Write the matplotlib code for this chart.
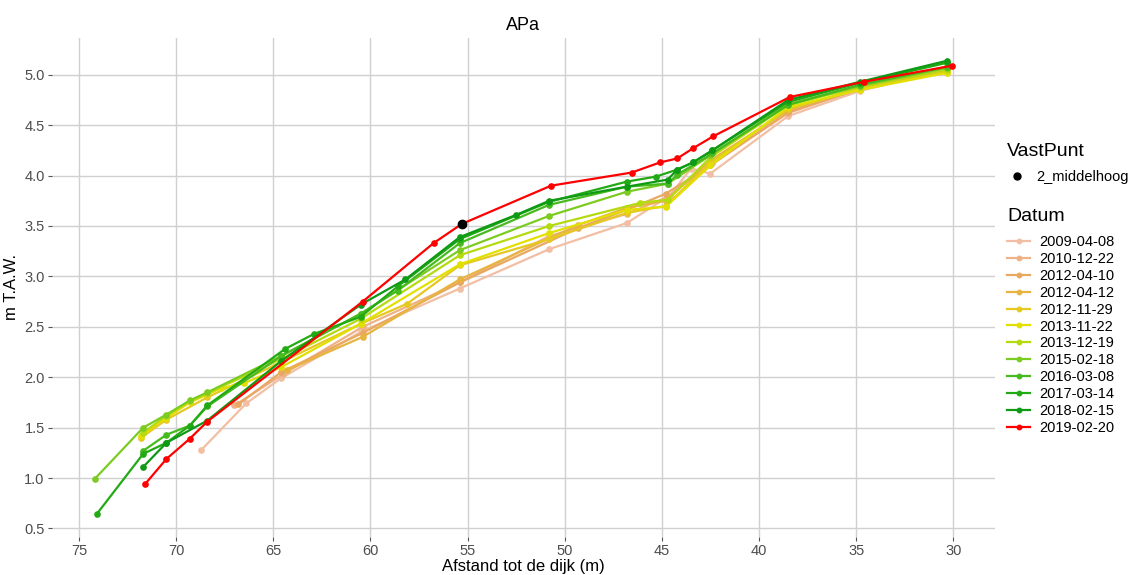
import matplotlib
matplotlib.use("Agg")
import matplotlib.pyplot as plt
from matplotlib.lines import Line2D

plt.rcParams['font.family'] = ['Liberation Sans', 'DejaVu Sans']

# metingen per datum: afstand tot de dijk (m) en hoogte (m T.A.W.)
datums = ["2009-04-08", "2010-12-22", "2012-04-10", "2012-04-12", "2012-11-29", "2013-11-22",
          "2013-12-19", "2015-02-18", "2016-03-08", "2017-03-14", "2018-02-15", "2019-02-20"]
kleuren = ["#f2bfa4", "#eeb286", "#e9a862", "#e8b440", "#e6c822", "#e2e000",
           "#b4da10", "#7ccb22", "#46ba1e", "#22aa14", "#0e9a14", "#ff0000"]

afstand = [
    [68.7, 66.4, 64.6, 60.5, 55.4, 50.8, 46.8, 44.6, 43.5, 42.5, 38.5, 34.8, 30.3],
    [67.0, 64.5, 60.4, 55.4, 50.8, 46.8, 44.8, 42.4, 38.5, 34.8, 30.3],
    [66.8, 64.6, 60.4, 55.4, 49.3, 46.8, 44.8, 42.5, 38.5, 34.8, 30.3],
    [64.3, 60.4, 55.4, 49.3, 46.8, 44.8, 42.5, 38.5, 34.8, 30.3],
    [71.8, 70.5, 68.4, 64.6, 60.5, 58.1, 55.4, 50.8, 46.8, 44.8, 42.5, 38.5, 34.8, 30.3],
    [71.8, 70.5, 69.3, 67.7, 66.5, 64.6, 60.5, 55.4, 50.8, 46.8, 44.8, 42.5, 38.5, 34.8, 30.3],
    [71.7, 70.5, 69.3, 68.4, 64.6, 60.5, 55.4, 50.8, 46.1, 44.7, 42.5, 38.5, 34.8, 30.3],
    [74.2, 71.7, 70.5, 69.3, 68.4, 64.6, 60.5, 55.4, 50.8, 46.8, 44.7, 42.5, 38.5, 34.8, 30.3],
    [71.7, 70.5, 69.3, 68.4, 64.6, 60.5, 58.6, 55.4, 50.8, 46.8, 44.7, 44.2, 42.4, 38.5, 34.8, 30.3],
    [74.1, 71.7, 70.5, 69.3, 68.4, 64.4, 62.9, 60.5, 58.6, 55.4, 50.8, 46.8, 45.3, 44.2, 43.4, 42.4, 38.5, 34.8, 30.3],
    [71.7, 70.5, 68.4, 64.6, 60.5, 58.2, 55.4, 52.5, 50.8, 46.8, 44.7, 44.2, 43.4, 42.4, 38.5, 34.8, 30.3],
    [71.6, 70.5, 69.3, 68.4, 60.4, 56.75, 55.3, 50.7, 46.55, 45.1, 44.2, 43.4, 42.35, 38.4, 34.6, 30.05],
]
hoogte = [
    [1.28, 1.74, 1.99, 2.45, 2.88, 3.27, 3.53, 3.80, 4.07, 4.02, 4.59, 4.84, 5.05],
    [1.72, 2.03, 2.50, 2.94, 3.40, 3.62, 3.78, 4.12, 4.62, 4.86, 5.07],
    [1.73, 2.05, 2.44, 2.94, 3.48, 3.66, 3.82, 4.10, 4.63, 4.86, 5.06],
    [2.07, 2.40, 2.97, 3.51, 3.68, 3.75, 4.15, 4.65, 4.87, 5.08],
    [1.40, 1.58, 1.80, 2.15, 2.53, 2.73, 3.11, 3.37, 3.63, 3.70, 4.13, 4.66, 4.86, 5.03],
    [1.42, 1.60, 1.75, 1.89, 1.94, 2.10, 2.53, 3.12, 3.43, 3.66, 3.69, 4.10, 4.68, 4.85, 5.02],
    [1.45, 1.62, 1.76, 1.84, 2.18, 2.58, 3.21, 3.50, 3.73, 3.76, 4.18, 4.70, 4.88, 5.05],
    [0.99, 1.50, 1.63, 1.77, 1.85, 2.21, 2.63, 3.26, 3.60, 3.84, 3.92, 4.20, 4.71, 4.89, 5.07],
    [1.27, 1.43, 1.52, 1.71, 2.21, 2.63, 2.86, 3.33, 3.71, 3.89, 3.92, 4.01, 4.22, 4.70, 4.90, 5.08],
    [0.64, 1.24, 1.35, 1.52, 1.72, 2.28, 2.43, 2.60, 2.90, 3.37, 3.74, 3.94, 3.99, 4.06, 4.13, 4.25, 4.73, 4.92, 5.12],
    [1.11, 1.35, 1.57, 2.16, 2.72, 2.97, 3.39, 3.61, 3.75, 3.89, 3.96, 4.06, 4.13, 4.25, 4.75, 4.93, 5.14],
    [0.94, 1.19, 1.39, 1.56, 2.75, 3.33, 3.52, 3.90, 4.03, 4.13, 4.17, 4.27, 4.39, 4.78, 4.93, 5.09],
]

# vast punt
vp_afstand = [55.3]
vp_hoogte = [3.52]

fig = plt.figure(figsize=(11.3, 5.75), dpi=100)
ax = fig.add_axes([0.0457, 0.066, 0.835, 0.868])

for d, h, c in zip(afstand, hoogte, kleuren):
    ax.plot(d, h, '-o', color=c, lw=1.6, markersize=3.8, zorder=2)
ax.plot(vp_afstand, vp_hoogte, 'o', color='black', markersize=6, zorder=3)

ax.set_xlim(76.41, 27.84)
ax.set_ylim(0.415, 5.365)
ax.set_xticks([75, 70, 65, 60, 55, 50, 45, 40, 35, 30])
ax.set_yticks([0.5, 1.0, 1.5, 2.0, 2.5, 3.0, 3.5, 4.0, 4.5, 5.0])
ax.set_yticklabels([f"{v:.1f}" for v in ax.get_yticks()])
ax.grid(True, color='#d0d0d0', lw=1.0)
ax.set_axisbelow(True)
for s in ax.spines.values():
    s.set_visible(False)
ax.tick_params(colors='#555555', labelsize=10.5, length=3, width=0.8)
ax.tick_params(axis='x', pad=2)
ax.tick_params(axis='y', pad=2)
for lab in ax.get_xticklabels() + ax.get_yticklabels():
    lab.set_color('#4d4d4d')

ax.set_title('APa', fontsize=13, pad=6)
ax.set_xlabel('Afstand tot de dijk (m)', fontsize=12, labelpad=1)
ax.set_ylabel('m T.A.W.', fontsize=12, labelpad=4)

# legenda's
h_vp = [Line2D([], [], ls='none', marker='o', color='black', markersize=5)]
leg1 = fig.legend(h_vp, ['2_middelhoog'], title='VastPunt', loc='upper left',
                  bbox_to_anchor=(0.886, 0.761), frameon=False, fontsize=10.5,
                  title_fontsize=14, handlelength=1.4, handletextpad=0.6, borderaxespad=0)
leg1._legend_box.align = 'left'
leg1._legend_box.sep = 7
h_dat = [Line2D([], [], color=c, marker='o', lw=1.6, markersize=3.2) for c in kleuren]
leg2 = fig.legend(h_dat, datums, title='Datum', loc='upper left',
                  bbox_to_anchor=(0.886, 0.648), frameon=False, fontsize=10.5,
                  title_fontsize=14, handlelength=1.6, handletextpad=0.6,
                  labelspacing=0.2, borderaxespad=0)
leg2._legend_box.align = 'left'
leg2._legend_box.sep = 7

fig.savefig('out.png', dpi=100)
